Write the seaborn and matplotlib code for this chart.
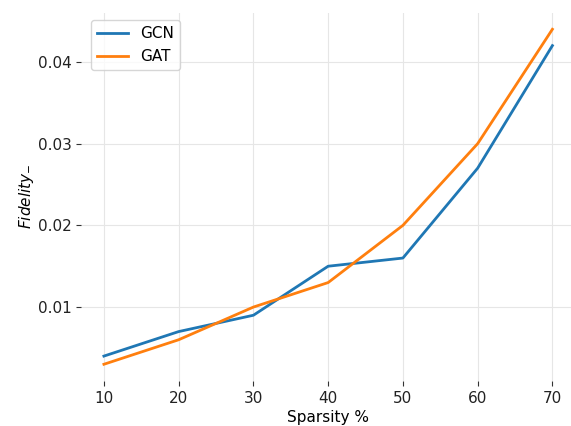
import matplotlib
matplotlib.use("Agg")
import matplotlib.pyplot as plt
import seaborn as sns
import pandas as pd

sparsity = [10, 20, 30, 40, 50, 60, 70]
gcn = [0.004, 0.007, 0.009, 0.015, 0.016, 0.027, 0.042]
gat = [0.003, 0.006, 0.010, 0.013, 0.020, 0.030, 0.044]

df = pd.DataFrame({
    "Sparsity": sparsity * 2,
    "Fidelity": gcn + gat,
    "Model": ["GCN"] * len(sparsity) + ["GAT"] * len(sparsity),
})

plt.rcParams["font.size"] = 11
fig = plt.figure(figsize=(5.71, 4.26), dpi=100)
ax = fig.add_axes([0.1427, 0.1056, 0.864, 0.865])
sns.lineplot(data=df, x="Sparsity", y="Fidelity", hue="Model",
             palette=["#1f77b4", "#ff7f0e"], linewidth=2, ax=ax)
for s in ax.spines.values():
    s.set_visible(False)
ax.grid(True, color="#e6e6e6", linewidth=0.8)
ax.set_axisbelow(True)
ax.set_xticks(sparsity)
ax.set_yticks([0.01, 0.02, 0.03, 0.04])
ax.tick_params(colors="#333333", labelcolor="#222222", labelsize=11)
ax.set_xlabel("Sparsity %", fontsize=11, labelpad=3)
ax.set_ylabel("$Fidelity_{-}$", fontsize=11, labelpad=1)
ax.legend(title=None, loc="upper left", fontsize=11, bbox_to_anchor=(0.004, 1.0))
fig.savefig("out.png", dpi=100)
